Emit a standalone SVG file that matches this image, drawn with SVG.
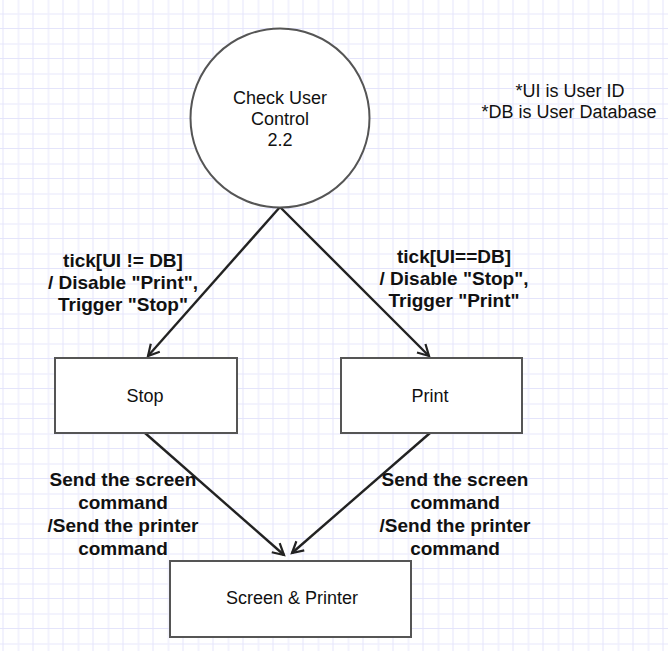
<svg xmlns="http://www.w3.org/2000/svg" width="668" height="651" viewBox="0 0 668 651">
<defs>
<pattern id="grid" x="3.5" y="-1" width="30" height="30" patternUnits="userSpaceOnUse">
<path d="M15 0V30M0 15H30" stroke="#f0f0fd" stroke-width="1.5" fill="none"/>
<path d="M30 0V30M0 30H30" stroke="#e4e4fb" stroke-width="2" fill="none"/>
</pattern>
<marker id="arr" markerWidth="16" markerHeight="16" refX="12" refY="8" orient="auto" markerUnits="userSpaceOnUse">
<path d="M1 2L12 8L1 14" fill="none" stroke="#222" stroke-width="2.2"/>
</marker>
<style>
.node{fill:#fff;stroke:#555;stroke-width:2}
.conn{fill:none;stroke:#222;stroke-width:2.4;marker-end:url(#arr)}
.t{font-family:"Liberation Sans",Arial,sans-serif;font-size:18px;fill:#111;text-anchor:middle}
.b{font-family:"Liberation Sans",Arial,sans-serif;font-size:19px;font-weight:bold;fill:#111;text-anchor:middle}
</style>
</defs>
<rect width="668" height="651" fill="#fff"/>
<rect width="668" height="651" fill="url(#grid)"/>
<g id="connectors">
<line class="conn" x1="280" y1="207" x2="148" y2="356"/>
<line class="conn" x1="280" y1="207" x2="429" y2="356"/>
<line class="conn" x1="145" y1="433" x2="284" y2="555"/>
<line class="conn" x1="430" y1="433" x2="292" y2="553"/>
</g>
<g id="check-user-control">
<circle class="node" cx="280" cy="118" r="89.5"/>
<text class="t" x="280" y="104">Check User</text>
<text class="t" x="280" y="125">Control</text>
<text class="t" x="280" y="146">2.2</text>
</g>
<g id="note">
<text class="t" x="570" y="97">*UI is User ID</text>
<text class="t" x="569" y="118">*DB is User Database</text>
</g>
<g id="stop">
<rect class="node" x="55" y="358" width="182" height="75"/>
<text class="t" x="145" y="402">Stop</text>
</g>
<g id="print">
<rect class="node" x="341" y="358" width="181" height="75"/>
<text class="t" x="430" y="402">Print</text>
</g>
<g id="screen-printer">
<rect class="node" x="170" y="561" width="241" height="76"/>
<text class="t" x="292" y="604">Screen &amp; Printer</text>
</g>
<g id="labels">
<text class="b" x="123" y="267">tick[UI != DB]</text>
<text class="b" x="123" y="289">/ Disable "Print",</text>
<text class="b" x="123" y="311">Trigger "Stop"</text>
<text class="b" x="454" y="263">tick[UI==DB]</text>
<text class="b" x="454" y="285">/ Disable "Stop",</text>
<text class="b" x="454" y="307">Trigger "Print"</text>
<text class="b" x="123" y="486">Send the screen</text>
<text class="b" x="123" y="509">command</text>
<text class="b" x="123" y="532">/Send the printer</text>
<text class="b" x="123" y="555">command</text>
<text class="b" x="455" y="486">Send the screen</text>
<text class="b" x="455" y="509">command</text>
<text class="b" x="455" y="532">/Send the printer</text>
<text class="b" x="455" y="555">command</text>
</g>
</svg>
